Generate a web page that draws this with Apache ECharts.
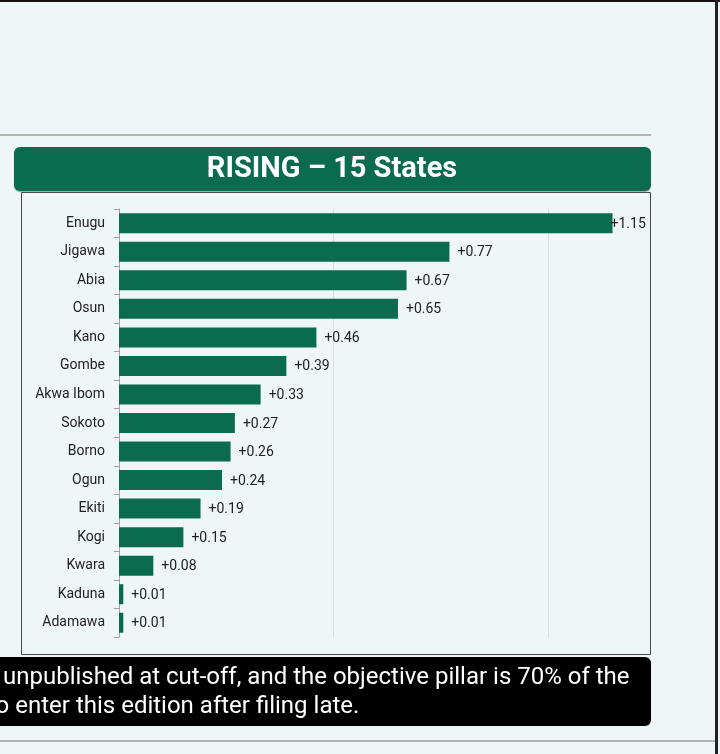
<!DOCTYPE html>
<html>
<head>
<meta charset="utf-8">
<script src="https://cdn.jsdelivr.net/npm/echarts@6/dist/echarts.min.js"></script>
<style>
  html, body { margin: 0; padding: 0; background: #eff6f8; }
  #chart { width: 720px; height: 754px; }
</style>
</head>
<body>
<div id="chart"></div>
<script>
  var GREEN = "#0b6b4f", INK = "#222222", GRID = "#dcdcdc";

  var states = ["Enugu", "Jigawa", "Abia", "Osun", "Kano", "Gombe", "Akwa Ibom", "Sokoto",
                "Borno", "Ogun", "Ekiti", "Kogi", "Kwara", "Kaduna", "Adamawa"];
  var change = [1.15, 0.77, 0.67, 0.65, 0.46, 0.39, 0.33, 0.27, 0.26, 0.24, 0.19, 0.15, 0.08, 0.01, 0.01];
  var title = "RISING \u2013 15 States";
  var noteLines = ["unpublished at cut-off, and the objective pillar is 70% of the",
                   "to enter this edition after filing late."];

  function fmt(v) { return (v >= 0 ? "+" : "") + v.toFixed(2); }

  var chart = echarts.init(document.getElementById("chart"));
  chart.setOption({
    animation: false,
    backgroundColor: "#eff6f8",
    textStyle: { fontFamily: "Roboto" },
    graphic: [
      { type: "rect", shape: { x: 0, y: 0, width: 720, height: 2 }, style: { fill: "#111" } },
      { type: "rect", shape: { x: 715, y: 0, width: 3, height: 754 }, style: { fill: "#222" } },
      { type: "rect", shape: { x: 0, y: 134, width: 651, height: 2 }, style: { fill: "#b4b4b4" } },
      { type: "rect", shape: { x: 14, y: 147, width: 637, height: 44, r: 6 }, style: { fill: GREEN, shadowColor: "rgba(0,0,0,0.35)", shadowOffsetY: 1, shadowBlur: 1 } },
      { type: "text", x: 332, y: 170, style: { text: title, fill: "#fff", font: "bold 29px Roboto", align: "center", verticalAlign: "middle" } },
      { type: "rect", shape: { x: 21.5, y: 192.5, width: 629, height: 462 }, style: { fill: "none", stroke: "#4a4a4a", lineWidth: 1 } },
      { type: "rect", shape: { x: -10, y: 657, width: 661, height: 69, r: 6 }, style: { fill: "#000" } },
      { type: "text", x: 3, y: 678, style: { text: noteLines[0], fill: "#fff", font: "24px Roboto", verticalAlign: "middle" } },
      { type: "text", x: -12, y: 707, style: { text: noteLines[1], fill: "#fff", font: "24px Roboto", verticalAlign: "middle" } },
      { type: "rect", shape: { x: 0, y: 740, width: 715, height: 2 }, style: { fill: "#b4b4b4" } }
    ],
    grid: { left: 119, top: 209, width: 515, height: 428 },
    xAxis: {
      type: "value", min: 0, max: 1.2, interval: 0.5,
      axisLabel: { show: false }, axisLine: { show: false }, axisTick: { show: false },
      splitLine: { show: true, showMinLine: false, showMaxLine: false, lineStyle: { color: GRID, width: 1 } }
    },
    yAxis: {
      type: "category", inverse: true, data: states,
      axisLine: { show: true, lineStyle: { color: "#a0a0a0" } },
      axisTick: { show: true, length: 5, lineStyle: { color: "#a0a0a0" } },
      axisLabel: { color: INK, fontSize: 14, margin: 14, padding: [2, 0, 0, 0] }
    },
    series: [{
      type: "bar", barWidth: 20,
      itemStyle: { color: GREEN },
      label: { show: true, position: "right", distance: 8, offset: [0, 1], color: INK, fontSize: 14, formatter: function (p) { return fmt(p.value); } },
      data: change.map(function (v, i) {
        return i === 0 ? { value: v, label: { distance: -2 } } : v;
      })
    }]
  });
</script>
</body>
</html>
